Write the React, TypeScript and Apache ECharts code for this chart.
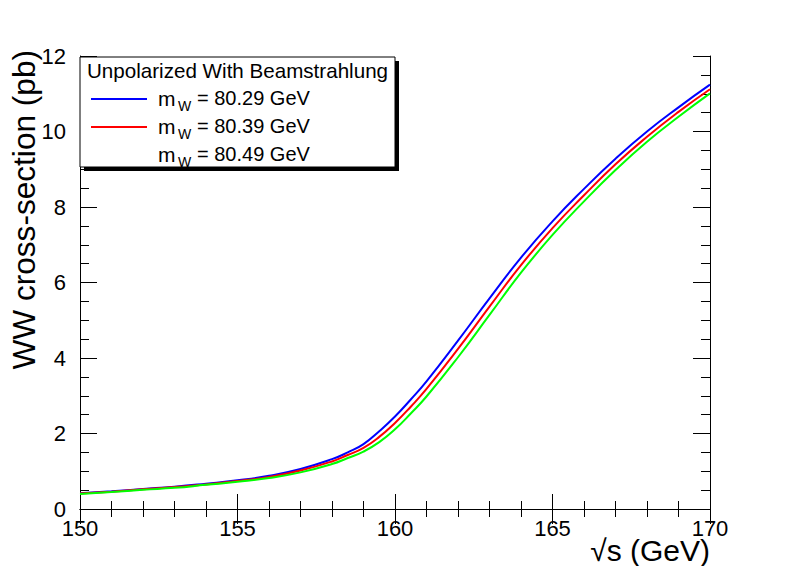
import React, { useEffect, useRef } from "react";
import * as echarts from "echarts";

const sqrtS = [150, 151, 152, 153, 154, 155, 156, 157, 158, 158.5, 159, 159.5, 160, 160.5, 161, 162, 163, 164, 165, 166, 167, 168, 169, 170];
const xsec8029 = [0.42, 0.47, 0.53, 0.59, 0.67, 0.76, 0.88, 1.06, 1.32, 1.50, 1.72, 2.06, 2.45, 2.90, 3.38, 4.46, 5.58, 6.66, 7.62, 8.48, 9.28, 10.00, 10.64, 11.24];
const xsec8039 = [0.41, 0.46, 0.52, 0.58, 0.65, 0.74, 0.85, 1.02, 1.26, 1.43, 1.62, 1.91, 2.28, 2.71, 3.18, 4.24, 5.36, 6.46, 7.44, 8.31, 9.13, 9.86, 10.52, 11.12];
const xsec8049 = [0.40, 0.45, 0.51, 0.56, 0.64, 0.72, 0.82, 0.97, 1.19, 1.35, 1.52, 1.77, 2.11, 2.53, 2.98, 4.02, 5.14, 6.26, 7.26, 8.15, 8.98, 9.73, 10.39, 11.01];
const massLabels = ["80.29", "80.39", "80.49"];
const legendHeader = "Unpolarized With Beamstrahlung";
const xTitle = "\u221As (GeV)";
const yTitle = "WW cross-section (pb)";

const FONT = "'Liberation Sans', Arial, Helvetica, sans-serif";
const colors = ["#0000ff", "#ff0000", "#00ff00"];
const legendLineShown = [true, true, false];

export default function App() {
  const ref = useRef<HTMLDivElement>(null);
  useEffect(() => {
    document.body.style.margin = "0";
    const chart = echarts.init(ref.current!, null, { renderer: "svg" });
    const allSeries = [xsec8029, xsec8039, xsec8049];

    const axisCommonX = (pos: "bottom" | "top", showLabel: boolean) => ({
      type: "value",
      position: pos,
      min: 150,
      max: 170,
      interval: 5,
      axisLine: { show: true, lineStyle: { color: "#000", width: 1 } },
      axisTick: { show: true, inside: true, length: 15, lineStyle: { color: "#000" } },
      minorTick: { show: true, splitNumber: 5, length: 8, lineStyle: { color: "#000" } },
      splitLine: { show: false },
      axisLabel: { show: showLabel, fontSize: 22, color: "#000", margin: 8, fontFamily: FONT },
    });
    const axisCommonY = (pos: "left" | "right", showLabel: boolean) => ({
      type: "value",
      position: pos,
      min: 0,
      max: 12,
      interval: 2,
      axisLine: { show: true, lineStyle: { color: "#000", width: 1 } },
      axisTick: { show: true, inside: true, length: 17, lineStyle: { color: "#000" } },
      minorTick: { show: true, splitNumber: 4, length: 9, lineStyle: { color: "#000" } },
      splitLine: { show: false },
      axisLabel: { show: showLabel, fontSize: 22, color: "#000", margin: 14, fontFamily: FONT },
    });

    const legendElems: any[] = [
      { type: "rect", shape: { x: 84, y: 61, width: 315, height: 110 }, style: { fill: "#000" }, z: 100 },
      { type: "rect", shape: { x: 80, y: 57, width: 315, height: 110 }, style: { fill: "#fff", stroke: "#000", lineWidth: 1 }, z: 101 },
      {
        type: "text", x: 87, y: 70, z: 102,
        style: { text: legendHeader, fontSize: 20.6, fontFamily: FONT, fill: "#000", align: "left", verticalAlign: "middle" },
      },
    ];
    massLabels.forEach((m, i) => {
      const cy = 98 + i * 28;
      if (legendLineShown[i]) {
        legendElems.push({ type: "line", z: 102, shape: { x1: 91, y1: cy + 1, x2: 147, y2: cy + 1 }, style: { stroke: colors[i], lineWidth: 2 } });
      }
      legendElems.push({ type: "text", x: 158, y: cy, z: 102, style: { text: "m", fontSize: 21, fontFamily: FONT, fill: "#000", align: "left", verticalAlign: "middle" } });
      legendElems.push({ type: "text", x: 178, y: cy + 8, z: 102, style: { text: "W", fontSize: 14, fontFamily: FONT, fill: "#000", align: "left", verticalAlign: "middle" } });
      legendElems.push({ type: "text", x: 197, y: cy, z: 102, style: { text: "= " + m + " GeV", fontSize: 20, fontFamily: FONT, fill: "#000", align: "left", verticalAlign: "middle" } });
    });

    chart.setOption({
      animation: false,
      backgroundColor: "#fff",
      textStyle: { fontFamily: FONT },
      grid: { left: 80, right: 79, top: 56, bottom: 57, containLabel: false },
      xAxis: [axisCommonX("bottom", true), axisCommonX("top", false)],
      yAxis: [axisCommonY("left", true), axisCommonY("right", false)],
      series: allSeries.map((arr, i) => ({
        type: "line",
        name: "mW = " + massLabels[i] + " GeV",
        xAxisIndex: 0,
        yAxisIndex: 0,
        data: sqrtS.map((s, k) => [s, arr[k]]),
        showSymbol: false,
        smooth: 0.5,
        lineStyle: { color: colors[i], width: 2 },
        itemStyle: { color: colors[i] },
        z: 2 + i,
      })),
      graphic: [
        ...legendElems,
        {
          type: "text", x: 24, y: 50, rotation: Math.PI / 2,
          style: { text: yTitle, fontSize: 31.6, fontFamily: FONT, fill: "#000", align: "right", verticalAlign: "middle" },
        },
        {
          type: "text", x: 710, y: 550,
          style: { text: xTitle, fontSize: 30, fontFamily: FONT, fill: "#000", align: "right", verticalAlign: "middle" },
        },
      ],
    });
    return () => chart.dispose();
  }, []);
  return <div ref={ref} style={{ width: 789, height: 566 }} />;
}
